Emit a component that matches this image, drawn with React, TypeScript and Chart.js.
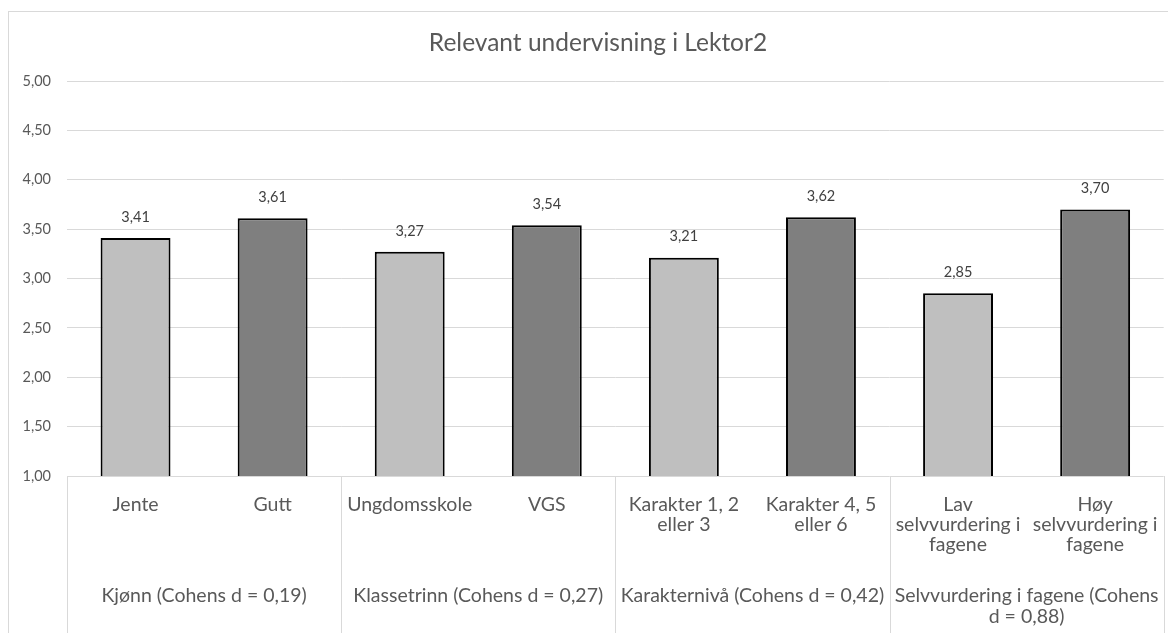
import React, { useEffect, useRef } from "react";
import { Chart, registerables } from "chart.js";

Chart.register(...registerables);

const chartTitle = "Relevant undervisning i Lektor2";
const categories: string[][] = [
  ["Jente"],
  ["Gutt"],
  ["Ungdomsskole"],
  ["VGS"],
  ["Karakter 1, 2", "eller 3"],
  ["Karakter 4, 5", "eller 6"],
  ["Lav", "selvvurdering i", "fagene"],
  ["Høy", "selvvurdering i", "fagene"],
];
const values: number[] = [3.41, 3.61, 3.27, 3.54, 3.21, 3.62, 2.85, 3.7];
const barColors: string[] = ["#bfbfbf", "#7f7f7f", "#bfbfbf", "#7f7f7f", "#bfbfbf", "#7f7f7f", "#bfbfbf", "#7f7f7f"];
const groupLabels: string[][] = [
  ["Kjønn (Cohens d = 0,19)"],
  ["Klassetrinn (Cohens d = 0,27)"],
  ["Karakternivå (Cohens d = 0,42)"],
  ["Selvvurdering i fagene (Cohens", "d = 0,88)"],
];
const groupSizes: number[] = [2, 2, 2, 2];
const yMin = 1;
const yMax = 5;
const yStep = 0.5;

const FONT = "Lato";
const TEXT = "#595959";
const GRID = "#d9d9d9";

const fmt = (v: number) => v.toFixed(2).replace(".", ",");

const decorPlugin = {
  id: "decor",
  afterDraw(chart: any) {
    const ctx = chart.ctx as CanvasRenderingContext2D;
    const area = chart.chartArea;
    const xs = chart.scales.x;
    const W = chart.width;
    const H = chart.height;
    ctx.save();
    // outer border
    ctx.strokeStyle = GRID;
    ctx.lineWidth = 1;
    ctx.strokeRect(0.5, 3.5, W + 20, H + 20);
    // title
    ctx.fillStyle = TEXT;
    ctx.font = `24.5px ${FONT}`;
    ctx.textAlign = "center";
    ctx.textBaseline = "middle";
    ctx.fillText(chartTitle, 590, 35);
    // data labels
    const meta = chart.getDatasetMeta(0);
    ctx.font = `14.5px ${FONT}`;
    ctx.fillStyle = "#404040";
    meta.data.forEach((bar: any, i: number) => {
      ctx.fillText(fmt(values[i]), bar.x, bar.y - 21);
    });
    // group separators & labels
    const bounds: number[] = [area.left];
    let idx = 0;
    groupSizes.forEach((n) => {
      idx += n;
      if (idx >= categories.length) bounds.push(area.right);
      else bounds.push((xs.getPixelForValue(idx - 1) + xs.getPixelForValue(idx)) / 2);
    });
    ctx.strokeStyle = GRID;
    bounds.forEach((b) => {
      const x = Math.round(b) + 0.5;
      ctx.beginPath();
      ctx.moveTo(x, area.bottom);
      ctx.lineTo(x, H);
      ctx.stroke();
    });
    ctx.fillStyle = TEXT;
    ctx.font = `19.5px ${FONT}`;
    groupLabels.forEach((lines, g) => {
      const cx = (bounds[g] + bounds[g + 1]) / 2;
      lines.forEach((ln, j) => {
        ctx.fillText(ln, cx, 588 + j * 21);
      });
    });
    ctx.restore();
  },
};

export default function App() {
  const ref = useRef<HTMLCanvasElement>(null);
  useEffect(() => {
    document.documentElement.style.overflow = "hidden";
    document.body.style.overflow = "hidden";
    const chart = new Chart(ref.current!, {
      type: "bar",
      data: {
        labels: categories,
        datasets: [
          {
            data: values,
            backgroundColor: barColors,
            borderColor: "#000000",
            borderWidth: 2,
            barPercentage: 0.51,
            categoryPercentage: 1,
          },
        ],
      },
      options: {
        animation: false,
        responsive: true,
        maintainAspectRatio: false,
        layout: { padding: { top: 73, right: 8, bottom: 0, left: 0 } },
        plugins: { legend: { display: false }, title: { display: false }, tooltip: { enabled: false } },
        scales: {
          x: {
            grid: { display: false, drawTicks: false },
            border: { display: false },
            ticks: {
              autoSkip: false,
              maxRotation: 0,
              minRotation: 0,
              padding: 18,
              color: TEXT,
              font: { family: FONT, size: 19.5, lineHeight: 1.05 },
            },
            afterFit: (s: any) => {
              s.height = 157;
            },
          },
          y: {
            min: yMin,
            max: yMax,
            beginAtZero: false,
            grid: { color: GRID, drawTicks: false },
            border: { display: false },
            ticks: {
              stepSize: yStep,
              padding: 16,
              color: TEXT,
              font: { family: FONT, size: 14.5 },
              callback: (v: any) => fmt(Number(v)),
            },
            afterFit: (s: any) => {
              s.width = 59;
            },
          },
        },
      },
      plugins: [decorPlugin],
    });
    return () => chart.destroy();
  }, []);
  return (
    <div style={{ position: "relative", width: 1168, height: 625 }}>
      <canvas ref={ref} />
    </div>
  );
}
